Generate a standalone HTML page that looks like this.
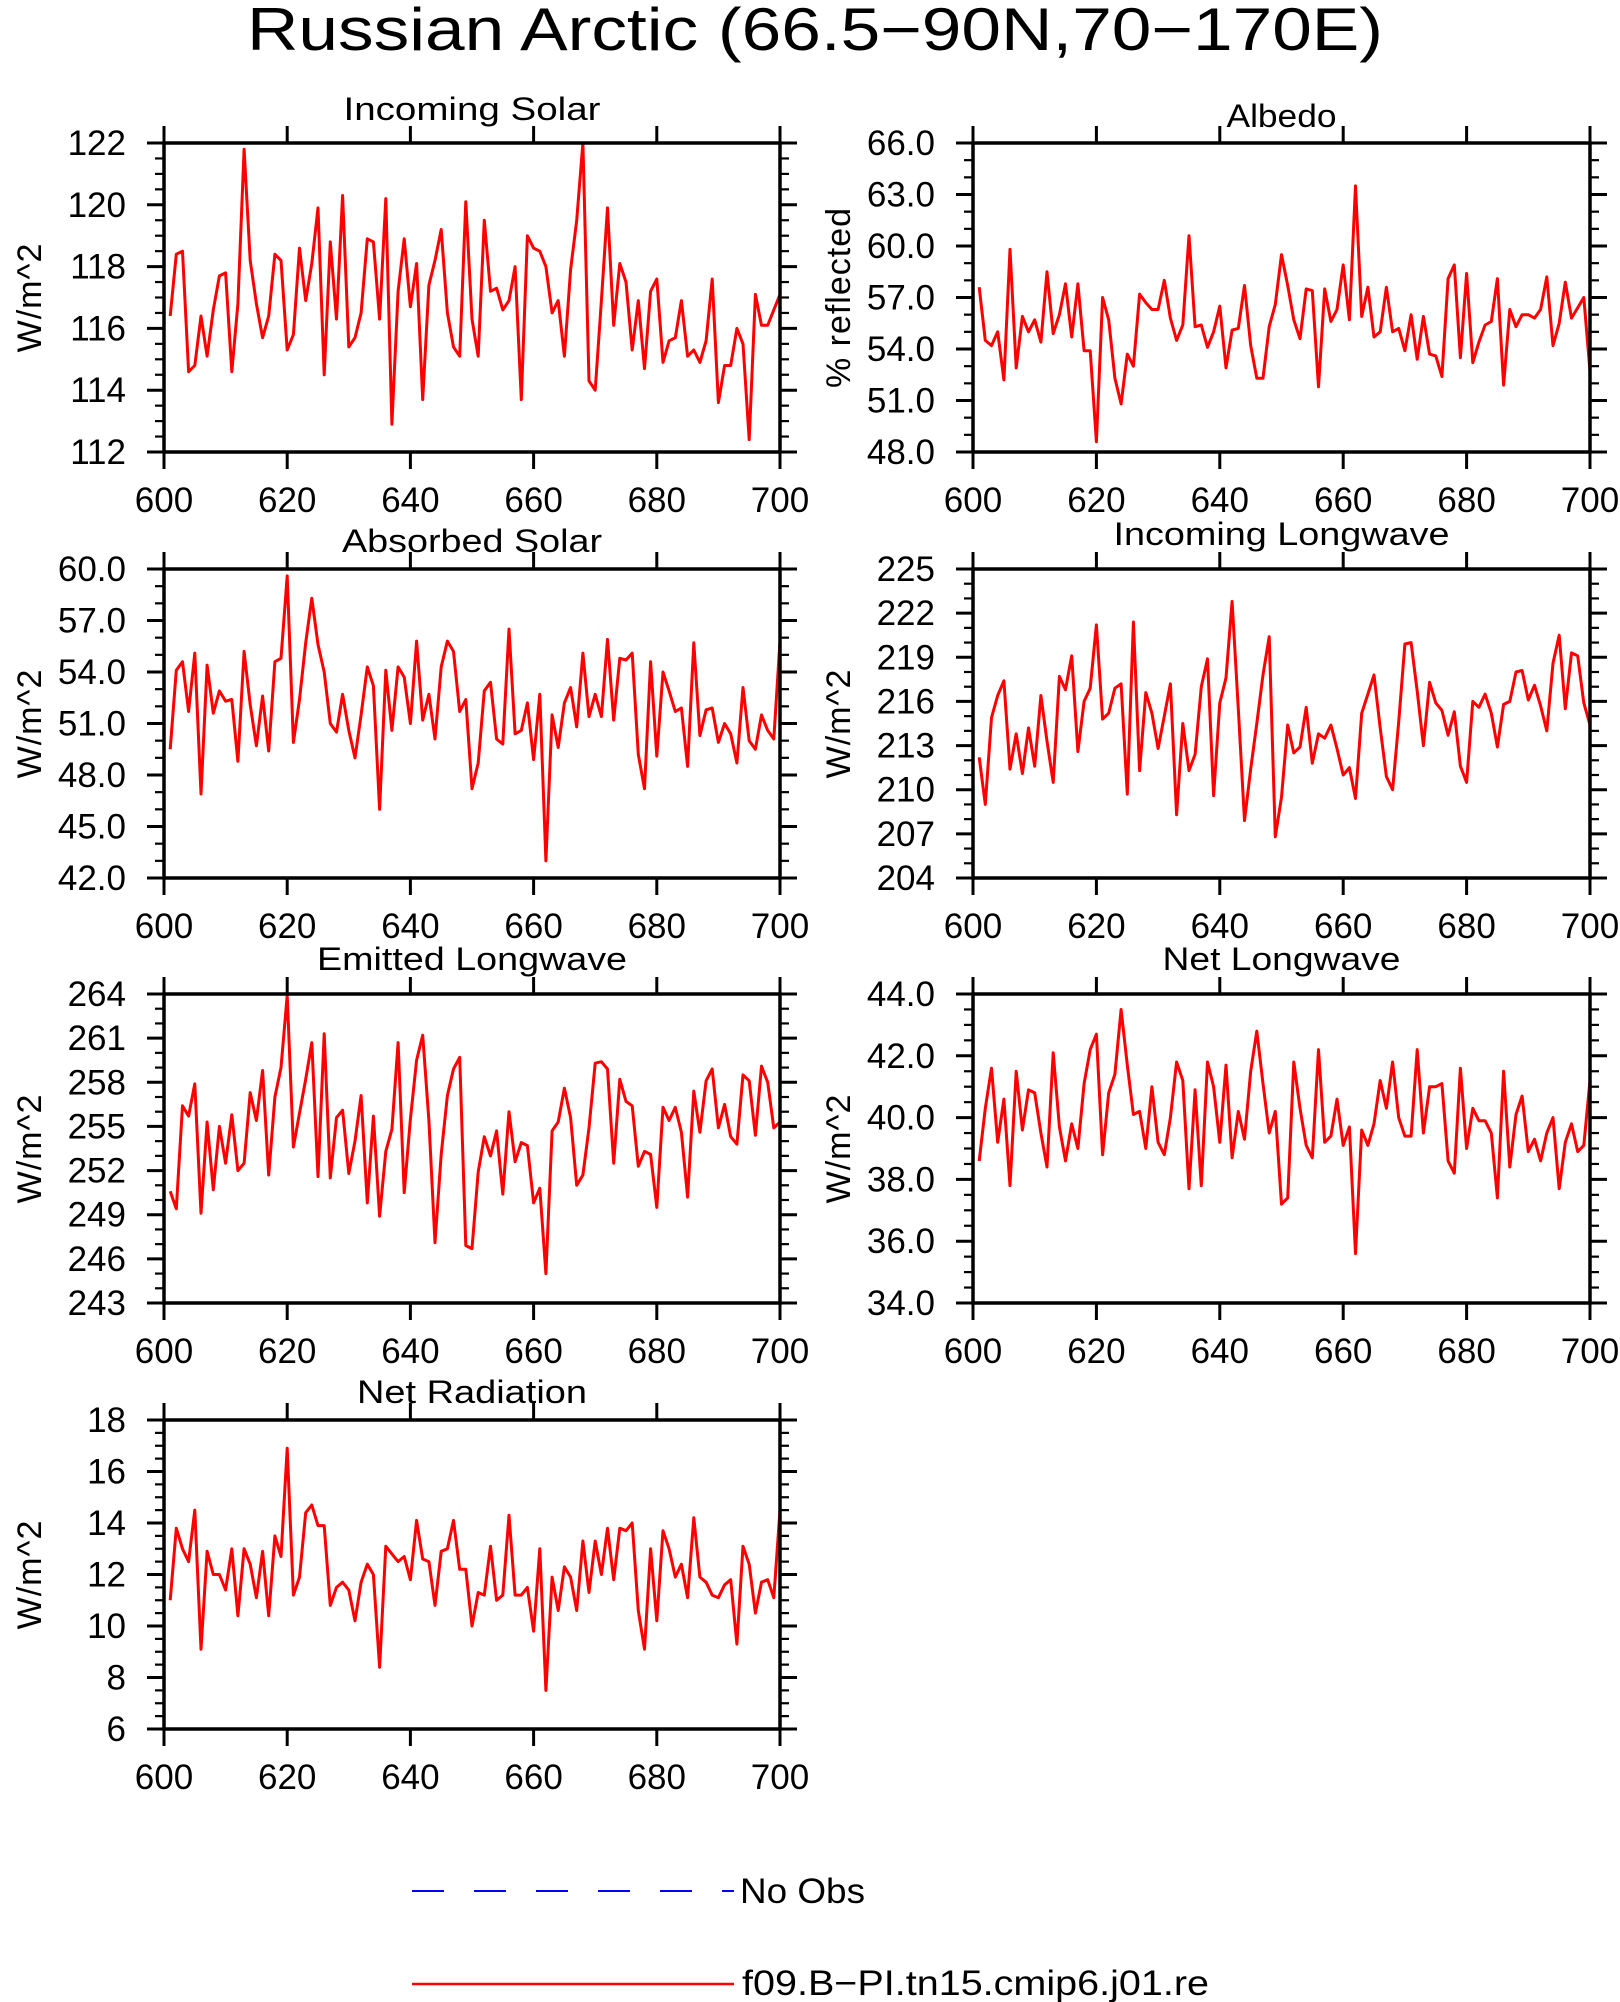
<!DOCTYPE html>
<html><head><meta charset="utf-8"><title>Russian Arctic</title>
<style>
html,body{margin:0;padding:0;background:#fff;}
svg{display:block;font-family:"Liberation Sans",sans-serif;}
</style></head>
<body>
<svg id="fig" width="1620" height="2002" viewBox="0 0 1620 2002" xmlns="http://www.w3.org/2000/svg">
<text x="815" y="50" font-size="60" text-anchor="middle" textLength="1136" lengthAdjust="spacingAndGlyphs" fill="#000">Russian Arctic (66.5−90N,70−170E)</text>
<g>
<line x1="412" y1="1891" x2="734" y2="1891" stroke="#0000ff" stroke-width="2" stroke-dasharray="32,30"/>
<text x="740" y="1903" font-size="35" textLength="125" lengthAdjust="spacingAndGlyphs" fill="#000">No Obs</text>
<line x1="412" y1="1984" x2="734" y2="1984" stroke="#ff0000" stroke-width="2.5"/>
<text x="742" y="1995" font-size="35" textLength="467" lengthAdjust="spacingAndGlyphs" fill="#000">f09.B−PI.tn15.cmip6.j01.re</text>
</g>
</svg>
<script>
const years = [];
for (let y = 601; y <= 700; y++) years.push(y);
const xTickLabels = [600, 620, 640, 660, 680, 700];

const incomingSolar = [116.4,118.4,118.5,114.6,114.8,116.4,115.1,116.6,117.7,117.8,114.6,116.8,121.8,118.2,116.8,115.7,116.4,118.4,118.2,115.3,115.8,118.6,116.9,118.1,119.9,114.5,118.8,116.3,120.3,115.4,115.7,116.5,118.9,118.8,116.3,120.2,112.9,117.2,118.9,116.7,118.1,113.7,117.4,118.2,119.2,116.5,115.4,115.1,120.1,116.3,115.1,119.5,117.2,117.3,116.6,116.9,118.0,113.7,119.0,118.6,118.5,118.0,116.5,116.9,115.1,117.9,119.5,122.0,114.3,114.0,116.9,119.9,116.1,118.1,117.5,115.3,116.9,114.7,117.2,117.6,114.9,115.6,115.7,116.9,115.1,115.3,114.9,115.6,117.6,113.6,114.8,114.8,116.0,115.5,112.4,117.1,116.1,116.1,116.6,117.1];
const albedo = [57.6,54.5,54.2,55.0,52.2,59.8,52.9,55.9,55.0,55.7,54.4,58.5,54.9,56.0,57.8,54.7,57.8,53.9,53.9,48.6,57.0,55.7,52.3,50.8,53.7,53.0,57.2,56.7,56.3,56.3,58.0,55.8,54.5,55.4,60.6,55.3,55.4,54.1,55.0,56.5,52.9,55.1,55.2,57.7,54.2,52.3,52.3,55.3,56.6,59.5,57.7,55.7,54.6,57.5,57.4,51.8,57.5,55.6,56.3,58.9,55.7,63.5,55.9,57.6,54.7,55.0,57.6,55.0,55.2,53.9,56.0,53.4,55.9,53.7,53.6,52.4,58.1,58.9,53.5,58.4,53.2,54.4,55.4,55.6,58.1,51.9,56.3,55.3,56.0,56.0,55.8,56.3,58.2,54.2,55.5,57.9,55.8,56.4,57.0,52.7];
const absorbedSolar = [49.5,54.1,54.6,51.7,55.1,46.9,54.4,51.6,52.9,52.3,52.4,48.8,55.2,52.1,49.7,52.6,49.4,54.6,54.8,59.6,49.9,52.4,55.7,58.3,55.6,54.0,51.0,50.5,52.7,50.6,49.0,51.5,54.3,53.2,46.0,54.1,50.6,54.3,53.7,51.0,55.8,51.2,52.7,50.1,54.3,55.8,55.2,51.7,52.4,47.2,48.7,52.9,53.4,50.1,49.8,56.5,50.4,50.6,52.2,48.9,52.7,43.0,51.5,49.6,52.2,53.1,50.8,55.1,51.4,52.7,51.4,55.9,51.2,54.8,54.7,55.1,49.2,47.2,54.6,49.1,54.0,52.9,51.7,51.9,48.5,55.7,50.3,51.8,51.9,49.9,51.0,50.4,48.7,53.1,50.0,49.5,51.5,50.6,50.1,55.8];
const incomingLongwave = [212.2,209.0,214.9,216.4,217.4,211.4,213.8,211.1,214.2,211.6,216.4,213.3,210.5,217.7,216.8,219.1,212.6,216.0,216.9,221.2,214.8,215.2,216.9,217.2,209.7,221.4,211.3,216.6,215.2,212.8,215.0,217.2,208.3,214.5,211.3,212.4,217.0,218.9,209.6,215.9,217.6,222.8,215.5,207.9,211.4,214.5,217.8,220.4,206.8,209.5,214.4,212.5,212.9,215.6,211.8,213.8,213.5,214.4,212.8,211.0,211.5,209.4,215.2,216.5,217.8,214.2,210.9,210.0,214.6,219.9,220.0,216.7,213.0,217.3,215.9,215.4,213.7,215.3,211.6,210.5,216.0,215.6,216.5,215.2,212.9,215.8,216.0,218.0,218.1,216.1,217.1,215.7,214.0,218.6,220.5,215.5,219.3,219.1,215.9,214.4];
const emittedLongwave = [250.6,249.4,256.4,255.7,257.9,249.1,255.3,250.7,255.0,252.5,255.8,252.0,252.5,257.3,255.4,258.8,251.7,257.0,259.0,263.9,253.6,255.9,258.2,260.7,251.6,261.3,251.5,255.6,256.1,251.8,254.0,257.1,249.8,255.7,248.9,253.3,254.8,260.7,250.5,255.5,259.5,261.2,255.4,247.1,253.1,257.1,258.9,259.7,246.9,246.7,251.9,254.3,253.0,254.7,250.4,256.0,252.6,253.9,253.7,249.8,250.8,245.0,254.7,255.3,257.6,255.6,251.0,251.7,254.9,259.3,259.4,258.9,252.5,258.2,256.7,256.4,252.3,253.3,253.1,249.5,256.3,255.4,256.3,254.6,250.2,257.4,254.6,258.1,258.9,254.9,256.5,254.3,253.8,258.5,258.1,254.4,259.1,258.0,254.9,255.3];
const netLongwave = [38.6,40.3,41.6,39.2,40.6,37.8,41.5,39.6,40.9,40.8,39.5,38.4,42.1,39.7,38.6,39.8,39.0,41.1,42.2,42.7,38.8,40.8,41.4,43.5,41.7,40.1,40.2,39.0,41.0,39.2,38.8,40.0,41.8,41.2,37.7,40.9,37.8,41.8,41.0,39.2,41.7,38.7,40.2,39.3,41.5,42.8,41.1,39.5,40.2,37.2,37.4,41.8,40.3,39.1,38.7,42.2,39.2,39.4,40.6,39.1,39.7,35.6,39.6,39.1,39.8,41.2,40.3,41.8,40.0,39.4,39.4,42.2,39.5,41.0,41.0,41.1,38.6,38.2,41.6,39.0,40.3,39.9,39.9,39.5,37.4,41.5,38.4,40.1,40.7,38.9,39.3,38.6,39.5,40.0,37.7,39.2,39.8,38.9,39.1,41.2];
const netRadiation = [11.0,13.8,13.0,12.5,14.5,9.1,12.9,12.0,12.0,11.4,13.0,10.4,13.0,12.4,11.1,12.9,10.4,13.5,12.7,16.9,11.2,11.9,14.4,14.7,13.9,13.9,10.8,11.5,11.7,11.4,10.2,11.7,12.4,12.0,8.4,13.1,12.8,12.5,12.7,11.8,14.1,12.6,12.5,10.8,12.9,13.0,14.1,12.2,12.2,10.0,11.3,11.2,13.1,11.0,11.2,14.3,11.2,11.2,11.5,9.8,13.0,7.5,11.9,10.6,12.3,11.9,10.6,13.3,11.3,13.3,12.0,13.8,11.8,13.8,13.7,14.0,10.6,9.1,13.0,10.2,13.7,13.0,11.9,12.4,11.1,14.2,11.9,11.7,11.2,11.1,11.6,11.8,9.3,13.1,12.4,10.5,11.7,11.8,11.1,14.5];

const NS = "http://www.w3.org/2000/svg";
const svg = document.getElementById("fig");
function mk(tag, attrs, parent) {
  const e = document.createElementNS(NS, tag);
  for (const k in attrs) e.setAttribute(k, attrs[k]);
  parent.appendChild(e);
  return e;
}

const panels = [
  {id:"incoming-solar", title:"Incoming Solar", tw:257, ytitle:"W/m^2", data:incomingSolar, L:164, R:780, T:143, B:452, ymin:112, ymax:122, major:2, minor:0.5, dec:0, tb:120},
  {id:"albedo", title:"Albedo", tw:110, ytitle:"% reflected", data:albedo, L:973, R:1590, T:143, B:452, ymin:48, ymax:66, major:3, minor:1, dec:1, tb:127},
  {id:"absorbed-solar", title:"Absorbed Solar", tw:260, ytitle:"W/m^2", data:absorbedSolar, L:164, R:780, T:569, B:878, ymin:42, ymax:60, major:3, minor:1, dec:1, tb:552},
  {id:"incoming-longwave", title:"Incoming Longwave", tw:336, ytitle:"W/m^2", data:incomingLongwave, L:973, R:1590, T:569, B:878, ymin:204, ymax:225, major:3, minor:1, dec:0, tb:545},
  {id:"emitted-longwave", title:"Emitted Longwave", tw:310, ytitle:"W/m^2", data:emittedLongwave, L:164, R:780, T:994, B:1303, ymin:243, ymax:264, major:3, minor:1, dec:0, tb:970},
  {id:"net-longwave", title:"Net Longwave", tw:238, ytitle:"W/m^2", data:netLongwave, L:973, R:1590, T:994, B:1303, ymin:34, ymax:44, major:2, minor:0.5, dec:1, tb:970},
  {id:"net-radiation", title:"Net Radiation", tw:230, ytitle:"W/m^2", data:netRadiation, L:164, R:780, T:1420, B:1729, ymin:6, ymax:18, major:2, minor:0.5, dec:0, tb:1403}
];

panels.forEach(p => {
  const g = mk("g", {}, svg);
  
  
  const xs = v => p.L + (v - 600) / 100 * (p.R - p.L);
  const ys = v => p.B - (v - p.ymin) / (p.ymax - p.ymin) * (p.B - p.T);

  const nMin = Math.round((p.ymax - p.ymin) / p.minor);
  for (let i = 0; i <= nMin; i++) {
    const v = p.ymin + i * p.minor;
    const isMaj = Math.abs((v - p.ymin) / p.major - Math.round((v - p.ymin) / p.major)) < 1e-6;
    const len = isMaj ? 17 : 9;
    const y = ys(v);
    const t1 = mk("line", {x1:p.L - len, y1:y, x2:p.L, y2:y, stroke:"#000", "stroke-width":isMaj?3:2.2}, g);
    
    
    const t2 = mk("line", {x1:p.R, y1:y, x2:p.R + len, y2:y, stroke:"#000", "stroke-width":isMaj?3:2.2}, g);
    
    
    if (isMaj) {
      const lb = mk("text", {x:p.L - 38, y:y + 12, "font-size":35, "text-anchor":"end", fill:"#000"}, g);
      
      
      lb.textContent = v.toFixed(p.dec);
    }
  }
  xTickLabels.forEach(v => {
    const x = xs(v);
    const a = mk("line", {x1:x, y1:p.B, x2:x, y2:p.B + 17, stroke:"#000", "stroke-width":3}, g);
    
    
    const b = mk("line", {x1:x, y1:p.T - 17, x2:x, y2:p.T, stroke:"#000", "stroke-width":3}, g);
    
    
    const lb = mk("text", {x:x, y:p.B + 60, "font-size":35, "text-anchor":"middle", fill:"#000"}, g);
    
    
    lb.textContent = v;
  });
  const pts = p.data.map((v, i) => xs(years[i]).toFixed(1) + "," + ys(v).toFixed(1)).join(" ");
  const pl = mk("polyline", {points:pts, fill:"none", stroke:"#ff0000", "stroke-width":3, "stroke-linejoin":"round"}, g);
  
  
  const fr = mk("rect", {x:p.L, y:p.T, width:p.R - p.L, height:p.B - p.T, fill:"none", stroke:"#000", "stroke-width":3.5}, g);
  
  
  const tt = mk("text", {x:(p.L + p.R) / 2, y:p.tb, "font-size":32, "text-anchor":"middle", fill:"#000", textLength:p.tw, lengthAdjust:"spacingAndGlyphs"}, g);
  
  
  tt.textContent = p.title;
  const cx = p.L - 135, cy = (p.T + p.B) / 2;
  const yt = mk("text", {x:cx, y:cy + 12, "font-size":34, "text-anchor":"middle", fill:"#000", transform:"rotate(-90 " + cx + " " + cy + ")", "letter-spacing":"1"}, g);
  
  
  yt.textContent = p.ytitle;
});
</script>
</body></html>
